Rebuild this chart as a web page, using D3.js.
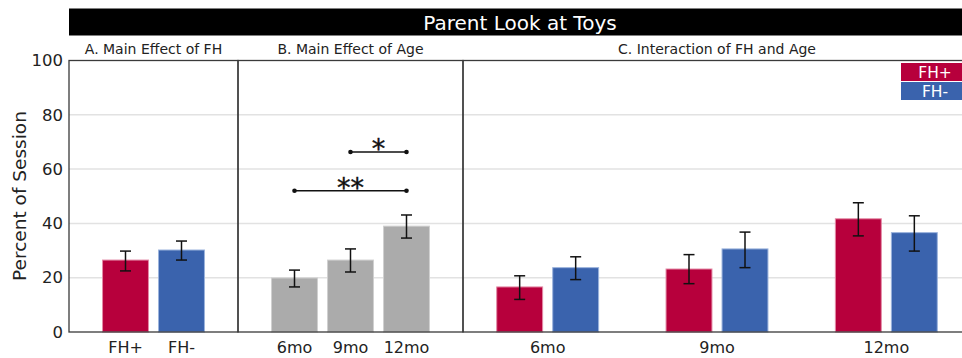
<!DOCTYPE html>
<html>
<head>
<meta charset="utf-8">
<script src="https://cdn.jsdelivr.net/npm/d3@7"></script>
<style>
  html, body { margin: 0; padding: 0; background: #fff; }
  svg { display: block; font-family: "DejaVu Sans", Verdana, sans-serif; }
</style>
</head>
<body>
<svg id="chart" width="962" height="358"></svg>
<script>
// ---- data ----
const title = "Parent Look at Toys";
const yTicks = [0, 20, 40, 60, 80, 100];
const groups = ["FH+", "FH-"];
const ages = ["6mo", "9mo", "12mo"];

// A. main effect of family history
const fhMean = [26.5, 30.2];
const fhLow  = [22.5, 26.5];
const fhHigh = [29.8, 33.5];

// B. main effect of age
const ageMean = [19.9, 26.5, 39.0];
const ageLow  = [16.6, 22.1, 34.6];
const ageHigh = [22.8, 30.6, 43.1];

// C. interaction (rows follow ages, columns follow groups)
const fhPlusMean  = [16.6, 23.2, 41.7];
const fhPlusLow   = [12.0, 17.8, 35.4];
const fhPlusHigh  = [20.7, 28.5, 47.6];
const fhMinusMean = [23.7, 30.6, 36.6];
const fhMinusLow  = [19.3, 23.7, 29.8];
const fhMinusHigh = [27.7, 36.8, 42.8];

// significance brackets for the age effect
const sigFrom  = ["9mo", "6mo"];
const sigTo    = ["12mo", "12mo"];
const sigLevel = [66.3, 52.0];
const sigLabel = ["*", "**"];

const panelTitles = ["A. Main Effect of FH", "B. Main Effect of Age", "C. Interaction of FH and Age"];

// ---- layout ----
const colors = { "FH+": "#b7003c", "FH-": "#3a63ad", age: "#ababab" };
const strokes = { "FH+": "#e38aa6", "FH-": "#9bb3dc", age: "#d0d0d0" };
const svg = d3.select("#chart");
const plotTop = 60.5, plotBottom = 332;
const panels = [[69, 238], [238, 463], [463, 971]];
const step = 56, barPadIn = 0.18;

const y = d3.scaleLinear().domain([0, 100]).range([plotBottom, plotTop]);

// title bar
svg.append("rect").attr("x", 69).attr("y", 8.5).attr("width", 902).attr("height", 27).attr("fill", "#000");
svg.append("text").attr("x", 520).attr("y", 30).attr("text-anchor", "middle")
  .attr("fill", "#fff").attr("font-size", 20).text(title);

// panel subtitles
panels.forEach((p, i) => {
  svg.append("text").attr("x", (p[0] + p[1]) / 2).attr("y", 53.5)
    .attr("text-anchor", "middle").attr("font-size", 14).attr("fill", "#222")
    .text(panelTitles[i]);
});

// gridlines
const grid = svg.append("g");
panels.forEach(p => {
  grid.selectAll(null).data(yTicks.filter(t => t > 0 && t < 100)).join("line")
    .attr("x1", p[0]).attr("x2", p[1]).attr("y1", d => y(d)).attr("y2", d => y(d))
    .attr("stroke", "#e2e2e2").attr("stroke-width", 1.5);
});

// centred band scale for a panel
function bandFor(domain, center) {
  const half = domain.length * step / 2;
  return d3.scaleBand().domain(domain).range([center - half, center + half])
    .paddingInner(barPadIn).paddingOuter(barPadIn / 2);
}

function drawBars(g, rows) {
  g.selectAll(null).data(rows).join("rect")
    .attr("x", d => d.x).attr("width", d => d.w)
    .attr("y", d => y(d.v)).attr("height", d => y(0) - y(d.v))
    .attr("fill", d => colors[d.c]).attr("stroke", d => strokes[d.c]).attr("stroke-width", 1);
  const eb = g.selectAll(null).data(rows).join("g").attr("stroke", "#111").attr("stroke-width", 1.5);
  eb.append("line").attr("x1", d => d.x + d.w / 2).attr("x2", d => d.x + d.w / 2)
    .attr("y1", d => y(d.lo)).attr("y2", d => y(d.hi));
  eb.append("line").attr("x1", d => d.x + d.w / 2 - 5.5).attr("x2", d => d.x + d.w / 2 + 5.5)
    .attr("y1", d => y(d.lo)).attr("y2", d => y(d.lo));
  eb.append("line").attr("x1", d => d.x + d.w / 2 - 5.5).attr("x2", d => d.x + d.w / 2 + 5.5)
    .attr("y1", d => y(d.hi)).attr("y2", d => y(d.hi));
}

function styleXAxis(g) {
  g.select(".domain").remove();
  g.selectAll("text").attr("font-size", 16).attr("fill", "#222").style("font-family", "DejaVu Sans, Verdana, sans-serif");
}

// panel A
const xA = bandFor(groups, (panels[0][0] + panels[0][1]) / 2);
drawBars(svg.append("g"), groups.map((g, i) => ({
  x: xA(g), w: xA.bandwidth(), v: fhMean[i], lo: fhLow[i], hi: fhHigh[i], c: g })));
svg.append("g").attr("transform", `translate(0,${plotBottom})`)
  .call(d3.axisBottom(xA).tickSize(0).tickPadding(9.5)).call(styleXAxis);

// panel B
const xB = bandFor(ages, (panels[1][0] + panels[1][1]) / 2);
drawBars(svg.append("g"), ages.map((a, i) => ({
  x: xB(a), w: xB.bandwidth(), v: ageMean[i], lo: ageLow[i], hi: ageHigh[i], c: "age" })));
svg.append("g").attr("transform", `translate(0,${plotBottom})`)
  .call(d3.axisBottom(xB).tickSize(0).tickPadding(9.5)).call(styleXAxis);

// significance brackets
const sig = svg.append("g");
sigLabel.forEach((lab, i) => {
  const x1 = xB(sigFrom[i]) + xB.bandwidth() / 2, x2 = xB(sigTo[i]) + xB.bandwidth() / 2;
  const yy = y(sigLevel[i]);
  sig.append("line").attr("x1", x1).attr("x2", x2).attr("y1", yy).attr("y2", yy)
    .attr("stroke", "#111").attr("stroke-width", 1.5);
  [x1, x2].forEach(xx => sig.append("circle").attr("cx", xx).attr("cy", yy).attr("r", 2.3).attr("fill", "#111"));
  sig.append("text").attr("x", (x1 + x2) / 2).attr("y", yy + 6).attr("text-anchor", "middle")
    .attr("font-size", 27).attr("fill", "#111").attr("stroke", "#111").attr("stroke-width", 0.4)
    .text(lab);
});

// panel C
const xC = d3.scaleBand().domain(ages).range(panels[2]).paddingInner(0.34).paddingOuter(0.17);
const xCi = d3.scaleBand().domain(groups)
  .range([xC.bandwidth() / 2 - step, xC.bandwidth() / 2 + step])
  .paddingInner(barPadIn).paddingOuter(barPadIn / 2);
const rowsC = [];
ages.forEach((a, i) => {
  rowsC.push({ x: xC(a) + xCi("FH+"), w: xCi.bandwidth(), v: fhPlusMean[i], lo: fhPlusLow[i], hi: fhPlusHigh[i], c: "FH+" });
  rowsC.push({ x: xC(a) + xCi("FH-"), w: xCi.bandwidth(), v: fhMinusMean[i], lo: fhMinusLow[i], hi: fhMinusHigh[i], c: "FH-" });
});
drawBars(svg.append("g"), rowsC);
svg.append("g").attr("transform", `translate(0,${plotBottom})`)
  .call(d3.axisBottom(xC).tickSize(0).tickPadding(9.5)).call(styleXAxis);

// panel frames
panels.forEach(p => {
  svg.append("rect").attr("x", p[0]).attr("y", plotTop).attr("width", p[1] - p[0]).attr("height", plotBottom - plotTop)
    .attr("fill", "none").attr("stroke", "#3a3a3a").attr("stroke-width", 1.3);
});

// y axis
const yAxis = svg.append("g").attr("transform", `translate(${panels[0][0]},0)`)
  .call(d3.axisLeft(y).tickValues(yTicks).tickSize(0).tickPadding(6));
yAxis.select(".domain").remove();
yAxis.selectAll("text").attr("font-size", 16.5).attr("fill", "#222").style("font-family", "DejaVu Sans, Verdana, sans-serif");
svg.append("text").attr("transform", "translate(26,196) rotate(-90)").attr("text-anchor", "middle")
  .attr("font-size", 18.5).attr("fill", "#222").text("Percent of Session");

// legend
const legend = svg.append("g");
groups.forEach((g, i) => {
  legend.append("rect").attr("x", 901).attr("y", 63 + i * 19).attr("width", 68).attr("height", 18)
    .attr("fill", colors[g]);
  legend.append("text").attr("x", 935).attr("y", 77.5 + i * 19).attr("text-anchor", "middle")
    .attr("font-size", 15.5).attr("fill", "#fff").text(g);
});
</script>
</body>
</html>
